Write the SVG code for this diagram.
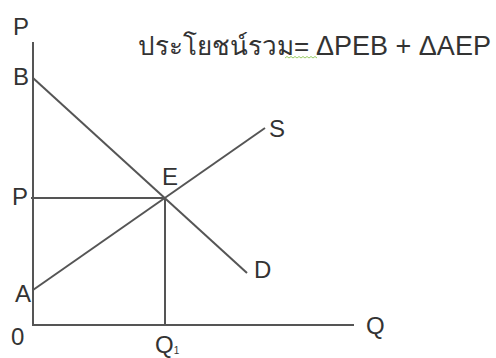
<svg xmlns="http://www.w3.org/2000/svg" width="496" height="358" viewBox="0 0 496 358">
<style>
.ln{stroke:#555;stroke-width:2;fill:none;stroke-linecap:butt}
.lb{font-family:"Liberation Sans",Arial,sans-serif;font-size:24px;fill:#333}
.tt{font-family:"Liberation Sans","Noto Sans",sans-serif;font-size:26px;fill:#333}
</style>
<rect width="496" height="358" fill="#fff"/>
<g id="connectors">
<line id="axis-p" class="ln" x1="33" y1="42" x2="33" y2="326"/>
<line id="axis-q" class="ln" x1="32" y1="325" x2="354" y2="325"/>
<line id="demand" class="ln" x1="33" y1="78" x2="247" y2="273"/>
<line id="supply" class="ln" x1="33" y1="290" x2="265" y2="128"/>
<line id="price" class="ln" x1="31" y1="198" x2="165" y2="198"/>
<line id="qty" class="ln" x1="165" y1="198" x2="165" y2="325"/>
</g>
<g id="label-P-axis"><text class="lb" x="13" y="35">P</text></g>
<g id="label-B"><text class="lb" x="13" y="85">B</text></g>
<g id="label-P"><text class="lb" x="12" y="205">P</text></g>
<g id="label-E"><text class="lb" x="162" y="185">E</text></g>
<g id="label-A"><text class="lb" x="15" y="302">A</text></g>
<g id="label-0"><text class="lb" x="11" y="345">0</text></g>
<g id="label-Q1"><text class="lb" x="155" y="353">Q<tspan font-size="10" dy="1">1</tspan></text></g>
<g id="label-Q"><text class="lb" x="366" y="334">Q</text></g>
<g id="label-D"><text class="lb" x="254" y="278">D</text></g>
<g id="label-S"><text class="lb" x="269" y="137">S</text></g>
<g id="title">
<text class="tt" x="138" y="55">ประโยชน์รวม=<tspan x="316" font-size="27">ΔPEB + ΔAEP</tspan></text>
<path d="M285 58 l2 -1.5 l2 1.5 l2 -1.5 l2 1.5 l2 -1.5 l2 1.5 l2 -1.5 l2 1.5 l2 -1.5 l2 1.5 l2 -1.5 l2 1.5 l2 -1.5 l2 1.5 l2 -1.5 l2 1.5" stroke="#9c6" stroke-width="1" fill="none"/>
</g>
</svg>
